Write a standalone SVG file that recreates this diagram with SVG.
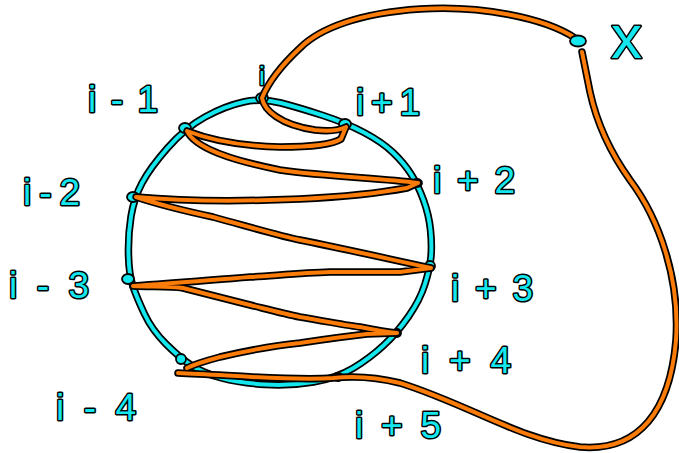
<svg xmlns="http://www.w3.org/2000/svg" xmlns:xlink="http://www.w3.org/1999/xlink" width="679" height="453" viewBox="0 0 679 453">
<style>
.ol{fill:none;stroke:#000;stroke-width:7.5;stroke-linecap:round;stroke-linejoin:round}
.cy{fill:none;stroke:#14e6ee;stroke-width:4;stroke-linecap:round;stroke-linejoin:round}
.or{fill:none;stroke:#fb7c08;stroke-width:4;stroke-linecap:round;stroke-linejoin:round}
.dot{fill:#14e6ee;stroke:#000;stroke-width:1.8}
.lbl{font-family:"Liberation Sans",Arial,sans-serif;font-size:37px;fill:#14e6ee;stroke:#000;stroke-width:3;paint-order:stroke;stroke-linejoin:round}
</style>
<defs>
<path id="ring" d="M281,103 Q300,108 323,115.5 Q346,123 364,132.5 Q382,142 393,152.5 Q404,163 411,174 Q418,185 423.5,200 Q429,215 430.5,230 Q432,245 431,256.5 Q430,268 425,284 Q420,300 408.5,316.5 Q397,333 383.5,345.5 Q370,358 353.5,368 Q337,378 313.5,382 Q290,386 265,384.5 Q240,383 221.5,378 Q203,373 191.5,365.5 Q180,358 166,344 Q152,330 144.5,314 Q137,298 133,286.5 Q129,275 128.5,255 Q128,235 131,216.5 Q134,198 142,183 Q150,168 167.5,148 Q185,128 205,117 Q225,106 243.5,102 Q262,98 281,103 Z"/>
<path id="zig" d="M575,38 C545,18 480,5 420,9 C360,13 320,28 300,48 C285,62 270,78 262,98 C264,110 280,125 315,130 C332,132 340,130 346,127 L341,139 C330,146 300,147 280,147 C240,146 210,140 187,131 C195,148 230,160 280,170 C330,177 380,178 418,183 L407,188 C380,193 340,197 300,199 C230,202 170,200 136,197 C160,205 185,211 213,217 C250,227 280,236 300,240 C340,248 380,257 431,268 L400,272 C370,272 340,272 330,272 C300,273 270,276 250,277 C210,280 180,283 133,286 C150,287 170,286 183,288 C210,295 230,300 250,305 C270,310 285,314 300,317 C330,322 350,326 360,327 C375,330 385,332 397,333 L367,334 C340,337 320,340 300,343 C280,345 250,350 220,357 C205,361 195,364 187,368"/>
<path id="loop" d="M178,373 C230,375 290,381 333,378 C360,375 380,378 400,383 C470,405 520,440 580,447 C640,452 670,410 676,340 C680,280 660,220 630,180 C605,145 595,115 590,92 C586,72 584,62 582,52"/>
</defs>
<g id="circle">
<use xlink:href="#ring" class="ol"/>
<use xlink:href="#ring" class="cy"/>
</g>
<g id="nodes">
<g id="n-i"><ellipse class="dot" cx="262" cy="98" rx="6" ry="5"/><text class="lbl" x="259" y="85" style="font-size:26px">i</text></g>
<g id="n-ip1"><ellipse class="dot" cx="345" cy="124" rx="6" ry="5"/><text class="lbl" x="356" y="115" textLength="64" lengthAdjust="spacing">i+1</text></g>
<g id="n-ip2"><ellipse class="dot" cx="417" cy="183" rx="5" ry="4"/><text class="lbl" x="433" y="193" textLength="82" lengthAdjust="spacing">i+2</text></g>
<g id="n-ip3"><ellipse class="dot" cx="430" cy="266" rx="5" ry="5"/><text class="lbl" x="451" y="301" textLength="82" lengthAdjust="spacing">i+3</text></g>
<g id="n-ip4"><ellipse class="dot" cx="397" cy="333" rx="4" ry="4"/><text class="lbl" x="421" y="373" textLength="90" lengthAdjust="spacing">i+4</text></g>
<g id="n-ip5"><ellipse class="dot" cx="338" cy="377" rx="5" ry="4"/><text class="lbl" x="355" y="438" textLength="86" lengthAdjust="spacing">i+5</text></g>
<g id="n-im1"><ellipse class="dot" cx="185" cy="128" rx="6" ry="5"/><text class="lbl" x="88" y="112" textLength="70" lengthAdjust="spacing">i-1</text></g>
<g id="n-im2"><ellipse class="dot" cx="133" cy="197" rx="6" ry="5"/><text class="lbl" x="23" y="205" textLength="57" lengthAdjust="spacing">i-2</text></g>
<g id="n-im3"><ellipse class="dot" cx="128" cy="279" rx="6" ry="5"/><text class="lbl" x="9" y="298" textLength="80" lengthAdjust="spacing">i-3</text></g>
<g id="n-im4"><ellipse class="dot" cx="181" cy="359" rx="5" ry="5"/><text class="lbl" x="56" y="420" textLength="80" lengthAdjust="spacing">i-4</text></g>
</g>
<g id="connectors">
<use xlink:href="#zig" class="ol"/>
<use xlink:href="#loop" class="ol"/>
<use xlink:href="#zig" class="or"/>
<use xlink:href="#loop" class="or"/>
</g>
<g id="n-x">
<ellipse class="dot" cx="578" cy="41" rx="8" ry="5.5"/>
<text class="lbl" x="611" y="58" style="font-size:62px">x</text>
</g>
</svg>
